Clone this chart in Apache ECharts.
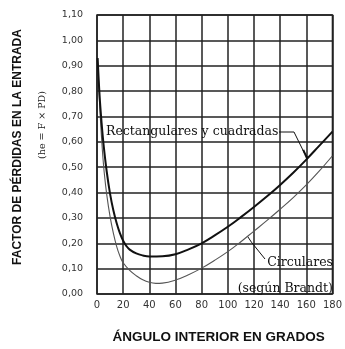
<!DOCTYPE html>
<html><head><meta charset="utf-8">
<script src="https://cdn.jsdelivr.net/npm/echarts@6/dist/echarts.min.js"></script>
<style>html,body{margin:0;padding:0;background:#fff}#c{width:345px;height:349px}</style>
</head><body><div id="c"></div>
<script>
const xTicks = [0,20,40,60,80,100,120,140,160,180];
const yTicks = [0,0.1,0.2,0.3,0.4,0.5,0.6,0.7,0.8,0.9,1.0,1.1];
const rectAngles = [0.5,2,3.5,5,7.5,10,12.5,15,17.5,20,22.5,25,30,35,40,50,60,70,80,90,100,110,120,130,140,150,160,170,180];
const rectValues = [0.93,0.78,0.675,0.59,0.48,0.395,0.33,0.28,0.24,0.21,0.189,0.175,0.160,0.152,0.148,0.149,0.157,0.176,0.200,0.231,0.265,0.303,0.343,0.385,0.430,0.478,0.530,0.585,0.640];
const circAngles = [1,2.5,4,5.5,7.5,10,12.5,15,17.5,20,25,30,35,40,45,50,60,70,80,90,100,110,120,130,140,150,160,170,180];
const circValues = [0.86,0.70,0.575,0.48,0.39,0.305,0.24,0.188,0.15,0.123,0.093,0.072,0.056,0.046,0.042,0.043,0.055,0.076,0.102,0.133,0.167,0.206,0.248,0.290,0.334,0.380,0.430,0.485,0.545];
const rectLabel = 'Rectangulares y cuadradas';
const circLabel = 'Circulares';
const circNote = '(según Brandt)';
const yTitle = 'FACTOR DE PÉRDIDAS EN LA ENTRADA';
const ySub = '(he = F × PD)';
const xTitle = 'ÁNGULO INTERIOR EN GRADOS';

const chart = echarts.init(document.getElementById('c'));
const pair = (xs, ys) => xs.map((x, i) => [x, ys[i]]);
const serif = 'DejaVu Serif';
const sans = 'DejaVu Sans';
const bold = 'Liberation Sans';
chart.setOption({
  animation: false,
  grid: { left: 97, right: 10, top: 15, bottom: 51, show: true, borderColor: '#222', borderWidth: 1.5 },
  xAxis: {
    type: 'value', min: 0, max: 180, interval: 20,
    axisLine: { show: false }, axisTick: { show: false },
    axisLabel: { color: '#333', fontFamily: sans, fontSize: 10, margin: 6 },
    splitLine: { show: true, lineStyle: { color: '#222', width: 1.5 } },
    name: xTitle, nameLocation: 'middle', nameGap: 36,
    nameTextStyle: { fontFamily: bold, fontWeight: 'bold', fontSize: 13.5, color: '#111', padding: [0,0,0,8] }
  },
  yAxis: {
    type: 'value', min: 0, max: 1.1, interval: 0.1,
    axisLine: { show: false }, axisTick: { show: false },
    axisLabel: { color: '#333', fontFamily: sans, fontSize: 9.5, margin: 14,
      formatter: v => v.toFixed(2).replace('.', ',') },
    splitLine: { show: true, lineStyle: { color: '#222', width: 1.5 } }
  },
  series: [
    { type: 'line', smooth: 0.4, symbol: 'none', data: pair(rectAngles, rectValues),
      lineStyle: { color: '#111', width: 2 }, z: 5 },
    { type: 'line', smooth: 0.4, symbol: 'none', data: pair(circAngles, circValues),
      lineStyle: { color: '#555', width: 1.1 }, z: 4 }
  ]
});

const p1 = chart.convertToPixel({gridIndex:0}, [161.5, 0.537]);
const p2 = chart.convertToPixel({gridIndex:0}, [115, 0.228]);
chart.setOption({
  graphic: [
    { type: 'text', x: 18, y: 147, rotation: Math.PI/2,
      style: { text: yTitle, fontFamily: bold, fontWeight: 'bold', fontSize: 12, fill: '#111', align: 'center', verticalAlign: 'middle' } },
    { type: 'text', x: 43, y: 125, rotation: Math.PI/2,
      style: { text: ySub, fontFamily: serif, fontSize: 9.5, fill: '#222', align: 'center', verticalAlign: 'middle' } },
    { type: 'text', x: 106, y: 132,
      style: { text: rectLabel, fontFamily: serif, fontSize: 12.5, fill: '#111', align: 'left', verticalAlign: 'middle' } },
    { type: 'polyline', shape: { points: [[279,132],[294,132],[p1[0]-4,p1[1]-5],[p1[0],p1[1]]] },
      style: { stroke: '#111', lineWidth: 1, fill: null } },
    { type: 'line', shape: { x1: p1[0]-5, y1: p1[1]-8, x2: p1[0]-1, y2: p1[1]+1 }, style: { stroke: '#111', lineWidth: 2 } },
    { type: 'text', x: 333, y: 263,
      style: { text: circLabel, fontFamily: serif, fontSize: 12.5, fill: '#111', align: 'right', verticalAlign: 'middle' } },
    { type: 'polyline', shape: { points: [[p2[0],p2[1]],[p2[0]+4,p2[1]+6],[265,259]] },
      style: { stroke: '#111', lineWidth: 1, fill: null } },
    { type: 'text', x: 333, y: 289,
      style: { text: circNote, fontFamily: serif, fontSize: 12.5, fill: '#111', align: 'right', verticalAlign: 'middle' } }
  ]
});
</script></body></html>
